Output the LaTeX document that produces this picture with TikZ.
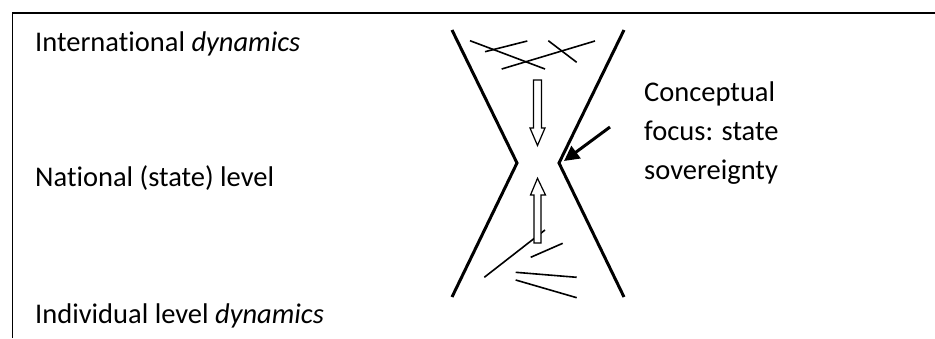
\documentclass[tikz,border=0pt]{standalone}
\usepackage{fontspec}
\setmainfont{Carlito}[Ligatures=NoCommon]
\usetikzlibrary{arrows.meta}
\tikzset{
  lbl/.style={anchor=base west, inner sep=0pt, font=\fontsize{28.5}{34}\selectfont},
  frame/.style={line width=1.6pt},
  funnel/.style={line width=3pt, line join=miter},
  scribble/.style={line width=1.6pt},
  hollow/.style={draw=black, fill=white, line width=1.2pt},
  pointer/.style={line width=3pt, -{Triangle[length=15pt,width=15pt]}}
}
\begin{document}
\begin{tikzpicture}[x=1pt,y=-1pt]
\useasboundingbox (0,0) rectangle (935,338);
% frame
\coordinate (fa) at (12.5,338);
\coordinate (fb) at (12.5,13);
\coordinate (fc) at (935,13);
\draw[frame] (fa) -- (fb) -- (fc);
% texts
\node[lbl] (intl) at (35,51) {International \textit{dynamics}};
\node[lbl] (nat) at (35,186) {National (state) level};
\node[lbl] (indiv) at (35,323) {Individual level \textit{dynamics}};
\node[lbl] (c1) at (644,101) {Conceptual};
\node[lbl] (c2) at (644,140) {focus: state};
\node[lbl] (c3) at (644,179) {sovereignty};
% scribbles top
\draw[scribble] (470,40.7) -- (545,69);
\draw[scribble] (485,51.7) -- (527.3,41);
\draw[scribble] (501.7,69) -- (595,41);
\draw[scribble] (548.3,40.7) -- (576.7,62.3);
% scribbles bottom
\draw[scribble] (484.3,277.3) -- (545,230);
\draw[scribble] (530.7,257.3) -- (562.7,243.3);
\draw[scribble] (515.7,272.3) -- (576.7,277.3);
\draw[scribble] (515.7,280) -- (576.7,297.7);
% funnel
\coordinate (lt) at (452,30);
\coordinate (lv) at (517,163);
\coordinate (lb) at (452,297);
\coordinate (rt) at (624,30);
\coordinate (rv) at (559,163);
\coordinate (rb) at (624,297);
\draw[funnel] (lt) -- (lv) -- (lb);
\draw[funnel] (rt) -- (rv) -- (rb);
% hollow arrows
\draw[hollow] (533.5,80) -- (541.5,80) -- (541.5,128) -- (545,128) -- (537.5,145.5) -- (530,128) -- (533.5,128) -- cycle;
\draw[hollow] (534,243) -- (541,243) -- (541,195) -- (545.5,195) -- (537.5,178.3) -- (530.5,195) -- (534,195) -- cycle;
% pointer
\coordinate (ps) at (610,127);
\coordinate (pe) at (564,161);
\draw[pointer] (ps) -- (pe);
\end{tikzpicture}
\end{document}
